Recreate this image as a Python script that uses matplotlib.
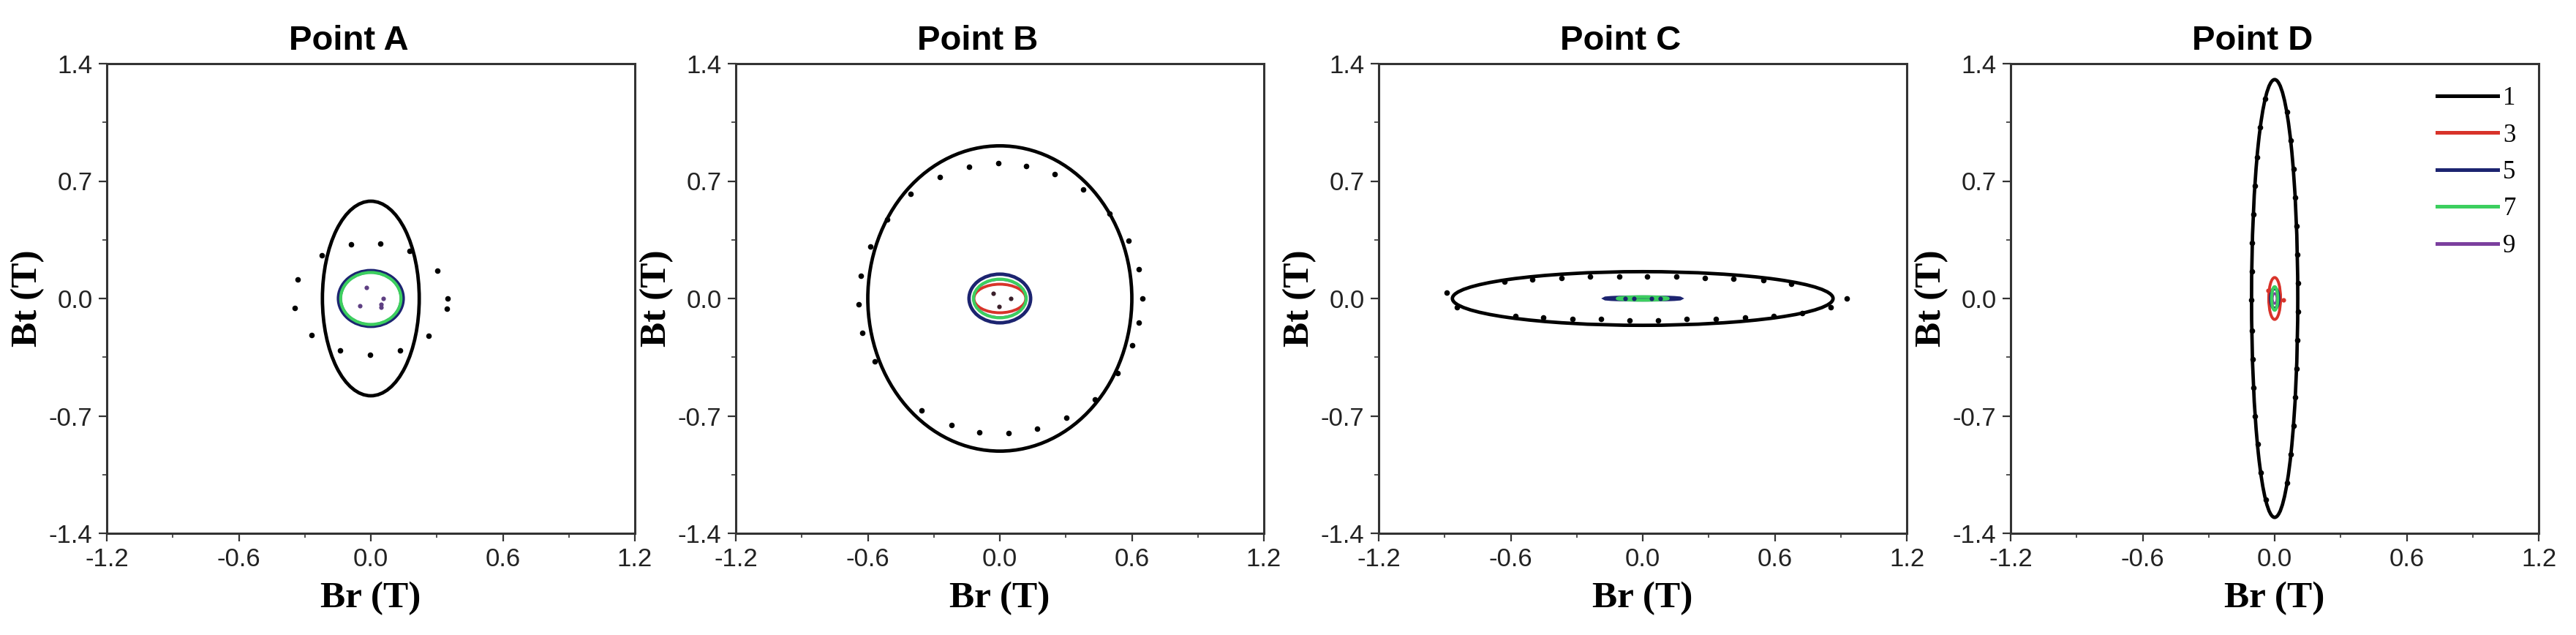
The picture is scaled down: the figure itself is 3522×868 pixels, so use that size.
import matplotlib.pyplot as plt
from matplotlib.patches import Ellipse
from matplotlib.lines import Line2D
from matplotlib.ticker import MultipleLocator

# harmonic orders and their colours
harmonics = ["1", "3", "5", "7", "9"]
colors = ["#000000", "#d8332a", "#1c2470", "#3ccf5f", "#7b3f9e"]
line_widths = [3.4, 2.8, 3.4, 3.0, 2.4]
draw_order = [4, 1, 2, 3, 0]  # index into harmonics, bottom -> top

titles = ["Point A", "Point B", "Point C", "Point D"]

# semi-axes (Br, Bt) of each harmonic locus, per point
rx_A = [0.22, 0.138, 0.147, 0.137, 0.137]
ry_A = [0.58, 0.158, 0.166, 0.155, 0.155]
rx_B = [0.60, 0.118, 0.140, 0.120, 0.118]
ry_B = [0.91, 0.085, 0.145, 0.115, 0.113]
rx_C = [0.865, 0.05, 0.172, 0.115, 0.04]
ry_C = [0.16, 0.006, 0.008, 0.010, 0.005]
rx_D = [0.105, 0.027, 0.018, 0.014, 0.010]
ry_D = [1.305, 0.125, 0.060, 0.070, 0.030]

# measured points of the fundamental (black dots)
dots_A_x = [-0.091, 0.043, -0.224, 0.177, -0.332, 0.301, -0.347, 0.350, 0.347,
            -0.269, 0.264, -0.139, 0.133, -0.003]
dots_A_y = [0.322, 0.326, 0.256, 0.284, 0.114, 0.167, -0.058, 0.0, -0.061,
            -0.219, -0.222, -0.310, -0.310, -0.335]
dots_B_x = [-0.008, 0.120, -0.141, 0.250, -0.273, 0.380, -0.405, 0.498, -0.513,
            0.584, -0.590, 0.632, -0.632, 0.647, -0.641, 0.632, -0.624, 0.603,
            -0.567, 0.536, 0.431, -0.355, 0.302, -0.221, 0.170, -0.094, 0.040]
dots_B_y = [0.806, 0.789, 0.784, 0.741, 0.724, 0.650, 0.624, 0.506, 0.472,
            0.345, 0.309, 0.173, 0.137, 0.0, -0.034, -0.146, -0.206, -0.278,
            -0.374, -0.446, -0.602, -0.669, -0.710, -0.753, -0.777, -0.796, -0.801]
dots_C_x = [-0.627, -0.503, -0.370, -0.238, -0.108, 0.020, 0.153, 0.283, 0.413,
            0.547, 0.675, -0.843, -0.580, -0.452, -0.318, -0.190, -0.060, 0.070,
            0.198, 0.331, 0.465, 0.595, 0.723, 0.853, -0.891, 0.927]
dots_C_y = [0.100, 0.112, 0.120, 0.129, 0.132, 0.132, 0.129, 0.124, 0.117,
            0.108, 0.089, -0.053, -0.103, -0.115, -0.120, -0.124, -0.132, -0.132,
            -0.124, -0.120, -0.115, -0.103, -0.088, -0.053, 0.036, 0.0]
dots_D_x = [-0.043, -0.066, -0.080, -0.090, -0.097, -0.102, -0.104, -0.105,
            -0.104, -0.101, -0.096, -0.089, -0.078, -0.063, -0.041,
            0.055, 0.073, 0.085, 0.093, 0.099, 0.103, 0.105, 0.105, 0.103,
            0.099, 0.094, 0.085, 0.074, 0.056]
dots_D_y = [1.19, 1.02, 0.84, 0.67, 0.50, 0.33, 0.16, -0.01, -0.19, -0.36,
            -0.53, -0.70, -0.87, -1.04, -1.20,
            1.11, 0.94, 0.77, 0.60, 0.43, 0.26, 0.09, -0.08, -0.25, -0.42,
            -0.59, -0.76, -0.93, -1.10]

# measured points of the higher harmonics (small coloured dots)
inner_A_x = [-0.019, 0.057, -0.049, 0.048, 0.048]
inner_A_y = [0.067, 0.0, -0.042, -0.037, -0.054]
inner_B_x = [-0.031, 0.050, -0.003]
inner_B_y = [0.032, 0.0, -0.050]
inner_C_x = [-0.080, -0.040, 0.040, 0.080]
inner_C_y = [0.0, 0.0, 0.0, 0.0]
inner_D_x = [-0.030, 0.040]
inner_D_y = [0.050, -0.010]
inner_colors = ["#5e3f82", "#3a1f2a", "#1c2470", "#d8332a"]

rx_all = [rx_A, rx_B, rx_C, rx_D]
ry_all = [ry_A, ry_B, ry_C, ry_D]
dots_x = [dots_A_x, dots_B_x, dots_C_x, dots_D_x]
dots_y = [dots_A_y, dots_B_y, dots_C_y, dots_D_y]
inner_x = [inner_A_x, inner_B_x, inner_C_x, inner_D_x]
inner_y = [inner_A_y, inner_B_y, inner_C_y, inner_D_y]

x_ticks = [-1.2, -0.6, 0.0, 0.6, 1.2]
y_ticks = [-1.4, -0.7, 0.0, 0.7, 1.4]

fig = plt.figure(figsize=(35.22, 8.68), dpi=100)
lefts = [146, 1006, 1885, 2749]
axes_w, axes_h = 722 / 3522, 642 / 868
bottom = 1 - 729 / 868

spine_color = "#333333"
tick_font = {"family": ["Liberation Sans", "DejaVu Sans"], "size": 25}
label_font = {"family": ["Liberation Serif", "DejaVu Serif"], "size": 37, "weight": "bold"}

for i in range(4):
    ax = fig.add_axes([lefts[i] / 3522, bottom, axes_w, axes_h])
    for k in draw_order:
        ax.add_patch(Ellipse((0, 0), 2 * rx_all[i][k], 2 * ry_all[i][k], fill=False,
                             ec=colors[k], lw=line_widths[k], zorder=2 + (k == 0)))
    ax.scatter(dots_x[i], dots_y[i], s=30, color="black", lw=0, zorder=4)
    ax.scatter(inner_x[i], inner_y[i], s=20, color=inner_colors[i], lw=0, zorder=4)

    ax.set_xlim(-1.2, 1.2)
    ax.set_ylim(-1.4, 1.4)
    ax.set_xticks(x_ticks)
    ax.set_yticks(y_ticks)
    ax.set_xticklabels([f"{v:.1f}" for v in x_ticks], fontdict=tick_font, color="#222222")
    ax.set_yticklabels([f"{v:.1f}" for v in y_ticks], fontdict=tick_font, color="#222222")
    ax.xaxis.set_minor_locator(MultipleLocator(0.3))
    ax.yaxis.set_minor_locator(MultipleLocator(0.35))
    ax.tick_params(which="major", direction="out", length=8, width=1.6, pad=6, color=spine_color)
    ax.tick_params(which="minor", direction="out", length=4, width=1.2, color=spine_color)
    for sp in ax.spines.values():
        sp.set_linewidth(2.2)
        sp.set_color(spine_color)

    ax.set_title(titles[i], x=0.458, pad=14, fontsize=34, fontweight="bold",
                 family=["Liberation Sans", "DejaVu Sans"])
    ax.set_xlabel("Br (T)", fontdict=label_font, labelpad=10)
    ax.set_ylabel("Bt (T)", fontdict=label_font, labelpad=4)

    if i == 3:
        handles = [Line2D([], [], color=c, lw=3.6) for c in colors]
        ax.legend(handles, harmonics, loc="upper right", frameon=False,
                  prop={"family": ["Liberation Serif", "DejaVu Serif"], "size": 25},
                  handlelength=2.4, handletextpad=0.2, labelspacing=0.5,
                  borderaxespad=0.5)

fig.savefig("out.png", dpi=100, facecolor="white")
